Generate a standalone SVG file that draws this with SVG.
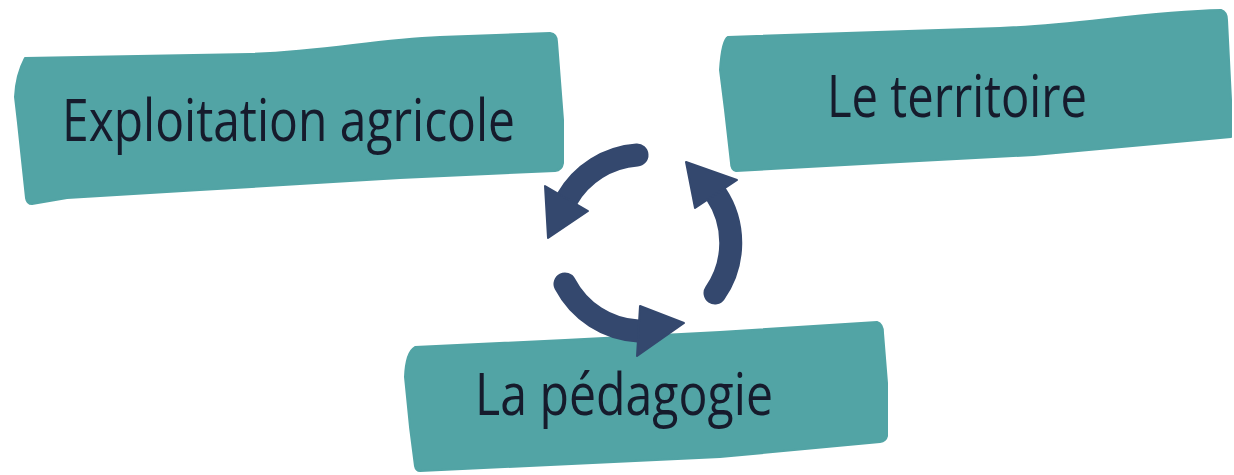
<svg xmlns="http://www.w3.org/2000/svg" width="1234" height="475" viewBox="0 0 1234 475">
<style>
.box{fill:#52a4a5;stroke:#52a4a5;stroke-width:2;stroke-linejoin:round}
.lbl{font-family:"Open Sans","Liberation Sans",sans-serif;font-size:58px;fill:#161b2c}
.arc{fill:none;stroke:#34486e;stroke-width:23;stroke-linecap:round}
.head{fill:#34486e;stroke:#34486e;stroke-width:2;stroke-linejoin:round}
</style>
<rect width="1234" height="475" fill="#ffffff"/>
<g id="node-exploitation">
<path class="box" d="M25,58 L250,54 C330,51 370,40 440,37 L550,33 Q557,34 557,42 L563,120 L563,163 Q562,170 555,171 L400,178 L200,190 L67,198 L32,204 Q27,204 26,198 L18,123 L15,97 Q16,75 25,58 Z"/>
<text class="lbl" x="62" y="141" textLength="453" lengthAdjust="spacingAndGlyphs">Exploitation agricole</text>
</g>
<g id="node-territoire">
<path class="box" d="M728,37 L1000,28 C1080,25 1140,12 1221,10 Q1227,12 1227,20 L1231,100 L1231,137 L1034,155 L900,162 L736,171 Q731,170 731,163 L725,110 L720,70 Q722,40 728,37 Z"/>
<text class="lbl" x="827" y="117" textLength="260" lengthAdjust="spacingAndGlyphs">Le territoire</text>
</g>
<g id="node-pedagogie">
<path class="box" d="M415,347 L565,340 L720,332 L877,322 Q883,324 883,333 L887,383 L887,436 Q886,441 880,442 L720,457 L420,471 Q416,471 415,466 L410,427 L405,377 Q406,352 415,347 Z"/>
<text class="lbl" x="475" y="415" textLength="298" lengthAdjust="spacingAndGlyphs">La pédagogie</text>
</g>
<g id="connectors">
<path class="arc" d="M637,155 A88,88 0 0 0 567,199"/>
<polygon class="head" points="588,211 545,186 548,238"/>
<path class="arc" d="M715,293 A88,88 0 0 0 716,194"/>
<polygon class="head" points="695,208 737,180 686,162"/>
<path class="arc" d="M565,284 A88,88 0 0 0 638,331"/>
<polygon class="head" points="640,306 637,356 684,323"/>
</g>
</svg>
